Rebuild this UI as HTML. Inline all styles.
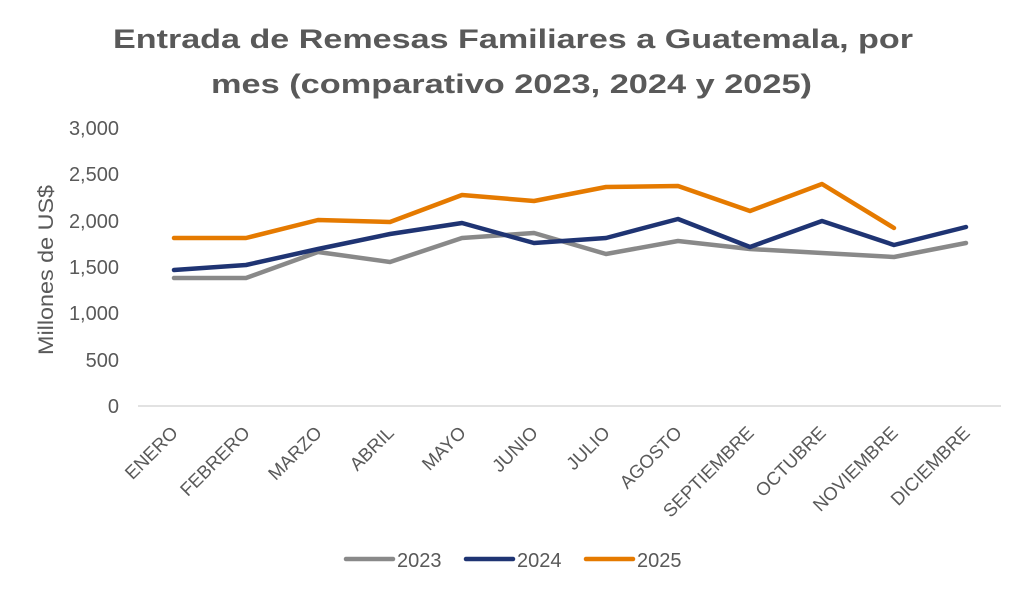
<!DOCTYPE html>
<html><head><meta charset="utf-8"><style>
html,body{margin:0;padding:0;background:#fff;}
svg{display:block;font-family:"Liberation Sans",sans-serif;}
</style></head><body>
<svg width="1024" height="597" viewBox="0 0 1024 597" xmlns="http://www.w3.org/2000/svg">
<rect width="1024" height="597" fill="#fff"/>
<g fill="#595959" font-weight="bold" font-size="27" text-anchor="start">
<text x="113" y="48" textLength="800" lengthAdjust="spacingAndGlyphs">Entrada de Remesas Familiares a Guatemala, por</text>
<text x="211" y="93" textLength="601" lengthAdjust="spacingAndGlyphs">mes (comparativo 2023, 2024 y 2025)</text>
</g>
<g fill="#595959" font-size="20" text-anchor="end">
<text x="119" y="135">3,000</text>
<text x="119" y="181">2,500</text>
<text x="119" y="228">2,000</text>
<text x="119" y="274">1,500</text>
<text x="119" y="320">1,000</text>
<text x="119" y="367">500</text>
<text x="119" y="413">0</text>
</g>
<text transform="translate(53,270) rotate(-90)" fill="#595959" font-size="21" text-anchor="middle" textLength="170" lengthAdjust="spacingAndGlyphs">Millones de US$</text>
<line x1="138" y1="406" x2="1001" y2="406" stroke="#d9d9d9" stroke-width="1.5"/>
<g fill="#595959" font-size="18.5" text-anchor="end">
<text transform="translate(179,434) rotate(-45)">ENERO</text>
<text transform="translate(251,434) rotate(-45)">FEBRERO</text>
<text transform="translate(323,434) rotate(-45)">MARZO</text>
<text transform="translate(395,434) rotate(-45)">ABRIL</text>
<text transform="translate(467,434) rotate(-45)">MAYO</text>
<text transform="translate(539,434) rotate(-45)">JUNIO</text>
<text transform="translate(611,434) rotate(-45)">JULIO</text>
<text transform="translate(683,434) rotate(-45)">AGOSTO</text>
<text transform="translate(755,434) rotate(-45)">SEPTIEMBRE</text>
<text transform="translate(827,434) rotate(-45)">OCTUBRE</text>
<text transform="translate(899,434) rotate(-45)">NOVIEMBRE</text>
<text transform="translate(971,434) rotate(-45)">DICIEMBRE</text>
</g>
<g fill="none" stroke-width="4.5" stroke-linejoin="round" stroke-linecap="round">
<polyline stroke="#898989" points="174,278 246,278 318,252 390,262 462,238 534,233 606,254 678,241 750,249 822,253 894,257 966,243"/>
<polyline stroke="#1F3473" points="174,270 246,265 318,249 390,234 462,223 534,243 606,238 678,219 750,247 822,221 894,245 966,227"/>
<polyline stroke="#E57A00" points="174,238 246,238 318,220 390,222 462,195 534,201 606,187 678,186 750,211 822,184 894,228"/>
</g>
<g stroke-width="4.5" stroke-linecap="round">
<line x1="346" y1="559" x2="393" y2="559" stroke="#898989"/>
<line x1="466" y1="559" x2="513" y2="559" stroke="#1F3473"/>
<line x1="586" y1="559" x2="633" y2="559" stroke="#E57A00"/>
</g>
<g fill="#595959" font-size="20">
<text x="397" y="567">2023</text>
<text x="517" y="567">2024</text>
<text x="637" y="567">2025</text>
</g>
</svg>
</body></html>
